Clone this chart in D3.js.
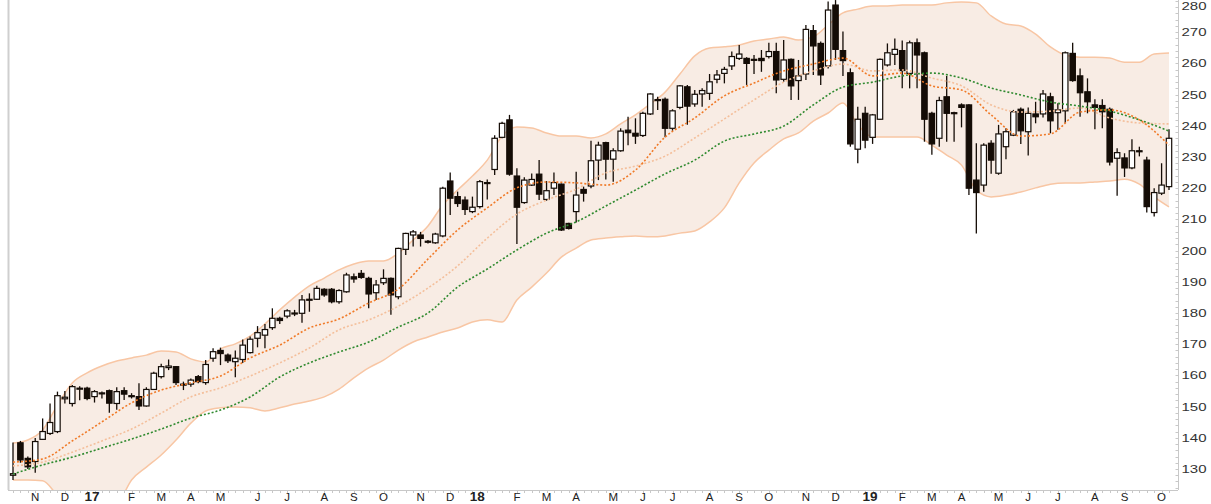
<!DOCTYPE html>
<html>
<head>
<meta charset="utf-8">
<script src="https://cdn.jsdelivr.net/npm/d3@7"></script>
<style>
  body { margin: 0; background: #fff; }
  svg { display: block; font-family: "Liberation Sans", Arial, sans-serif; }
</style>
</head>
<body>
<div id="chart"></div>
<script>
// weekly bars, first one is the week of 17 Oct 2016
const firstWeek = new Date(2016, 9, 17);

const openVals = [
  128, 138.4, 133.4, 132.4, 139.5, 141.4, 142, 152.5, 151, 155.6,
  155.9, 153.2, 154.2, 155.1, 151, 155.1, 153.5, 153.2, 150.2, 155.5,
  159.6, 162.5, 162.8, 157.2, 157.2, 159.6, 157.7, 165.5, 168, 166.5,
  164.4, 165.1, 167.3, 171.9, 172.9, 175.3, 178.3, 179, 179.9, 179.9,
  184.3, 184.4, 187.6, 187.6, 183.6, 186.8, 191.6, 192.7, 191.1, 186.5,
  189.7, 191.1, 185.2, 200.4, 205, 205, 203, 202.5, 204.7, 222.3,
  217.3, 216.2, 212.5, 214.1, 221.8, 226, 236.3, 241.9, 223.9, 215.4,
  221, 224.5, 216.4, 220, 221.3, 208.7, 212.5, 219.6, 220.7, 229,
  234.6, 229.3, 232, 238.6, 237.6, 236.9, 243.8, 248.4, 248.5, 239.2,
  245.9, 252.5, 247, 250.2, 250.4, 254.9, 256.8, 259.2, 261.6, 261.6,
  261.3, 261.6, 262.2, 263.8, 254.9, 261.3, 254.5, 256.6, 270.5, 266.4,
  259.2, 278.7, 264.1, 257, 232.5, 244, 236.3, 242.1, 259.5, 262.9,
  264.1, 256.8, 266.6, 263.4, 244, 236, 249.3, 244.2, 246.7, 246.7,
  222.6, 221, 234.4, 224.8, 233.3, 237, 245.3, 238.1, 243.8, 243.8,
  249.3, 244.2, 244.8, 263.2, 256, 250.9, 246.7, 246.5, 245.3, 229.6,
  229.7, 226.5, 232, 229, 212.2, 218.4, 220.5
];
const highVals = [
  138.5, 139, 134, 139.9, 146.2, 151, 154.8, 155, 156.9, 156.5,
  156.4, 155.3, 154.8, 155.5, 156.2, 156.2, 154.3, 157.5, 156.2, 161.2,
  163.7, 165.1, 163, 158, 159, 160.1, 164.9, 168.7, 168.9, 167,
  168, 171.5, 172.5, 175.8, 176.5, 181.5, 178.8, 181.2, 181, 185.8,
  186.3, 188.7, 187.9, 188, 187.6, 192.9, 192.7, 193.8, 191.6, 190.6,
  194, 191.4, 200.9, 205.7, 206.6, 206, 203.4, 205.7, 220.5, 225,
  218.9, 217.3, 217.3, 222.6, 222.8, 237, 241.3, 243.5, 226.4, 223.5,
  224.7, 229, 222.3, 225, 221.5, 208.9, 225.3, 220.5, 235.2, 234.9,
  234.9, 232.8, 239.2, 242.9, 242.4, 244.5, 250.4, 249.3, 249.1, 245.3,
  253.1, 253.1, 251.5, 252, 256.6, 257.9, 258.9, 263.8, 265.9, 262,
  262.7, 264.3, 266.6, 266.6, 267.5, 261.6, 261.1, 272.3, 272.3, 267,
  279.8, 280.3, 270.2, 258.4, 246.1, 246.1, 243.8, 261.6, 266.4, 268,
  267.3, 267.3, 268, 263.8, 244.5, 249.3, 256, 244.5, 247.2, 246.9,
  234.4, 234.4, 235.4, 240.3, 239.2, 245.1, 245.9, 245.9, 247.7, 251.5,
  250.6, 247.2, 263.8, 266.6, 258.4, 255.2, 248.5, 248.5, 245.9, 232.8,
  231.2, 235.7, 233.3, 230.1, 220, 228, 238.9
];
const lowVals = [
  126.5, 132, 130, 128.8, 139.3, 140.9, 141.5, 151, 150, 152,
  152, 151.3, 152.6, 148, 149, 152.1, 152.6, 148.9, 150, 155.3,
  159, 161.7, 156.9, 155.3, 156.4, 157.5, 157, 164.4, 163.3, 164,
  159.4, 164, 167, 169, 168.7, 174.6, 176.5, 178.3, 179, 176.9,
  180.4, 184.2, 185.2, 183.1, 183, 186.5, 189.7, 191, 181.5, 184.2,
  189, 179.4, 184.4, 198.6, 201.3, 201.3, 202.3, 202.2, 204.3, 211.4,
  214, 211.4, 212, 213.5, 216.4, 224.2, 236, 224, 202.1, 215,
  220.7, 216.2, 216, 217.8, 206.3, 206.8, 209, 215.7, 220, 222.6,
  222.8, 222.1, 231.7, 233.8, 234.2, 236.4, 243.5, 245.1, 236.3, 238.4,
  245.3, 240.3, 246.1, 246.1, 248.3, 253.6, 253.6, 257.9, 261.1, 253.1,
  256.6, 257.3, 261.6, 250.4, 254.1, 248.3, 248.3, 254.7, 256.3, 253.1,
  258.4, 261.1, 256, 233.3, 228, 232.8, 234.2, 241.9, 259, 259.5,
  252, 252, 252, 234.9, 230.7, 233.3, 234.9, 234.9, 239.5, 217.8,
  205.5, 218.9, 224.6, 224.3, 229.3, 236.7, 234.2, 230.5, 240.8, 242.7,
  237.6, 238.7, 240.8, 254.1, 242.9, 244, 238.9, 239.2, 227.3, 217.6,
  223.6, 226.1, 230.2, 212.2, 210.9, 217.8, 219.4
];
const closeVals = [
  128.5, 132.9, 130.7, 138.8, 142, 144.9, 153.5, 153, 156.4, 155.9,
  152.6, 154.8, 154.4, 151.1, 154.8, 154, 153.3, 150.2, 155.5, 160.7,
  162.8, 163, 157.7, 156.9, 158.5, 158, 163.5, 167.6, 167, 164.7,
  165.5, 169.7, 171.6, 173.7, 174.7, 178.3, 177.6, 180.7, 180, 184.2,
  184.4, 187.9, 185.8, 183.6, 187.2, 192.2, 190.9, 191.4, 186.1, 189,
  191.1, 185.8, 200.7, 205.5, 206, 203.9, 202.9, 205.3, 220, 216.8,
  215.1, 213.2, 213.9, 222.1, 221.6, 236, 240.8, 224.5, 213.9, 222.6,
  222.8, 218.1, 219.2, 221.8, 206.6, 207.1, 217.8, 218.4, 228.8, 233.8,
  229.3, 232, 238.3, 237.8, 236.7, 244, 250.2, 248.3, 239.2, 244.8,
  252.8, 246.3, 250.1, 251.3, 254.1, 256.3, 258.1, 262.2, 263, 260,
  261.2, 260.9, 263.8, 254.7, 261.1, 252.8, 256, 270.9, 265.6, 256.3,
  277.1, 264.5, 260.9, 234.2, 242.1, 235.4, 243.5, 261.3, 263.4, 264.5,
  257.7, 266.6, 262.7, 242.1, 234.2, 248.1, 244, 244, 245.9, 220,
  218.6, 233.8, 229, 237.4, 238.1, 244.5, 238.4, 244, 242.9, 250.2,
  241.6, 245.1, 263.4, 254.5, 250.6, 247.7, 245.9, 244.5, 228.4, 231.4,
  226.5, 232, 231.9, 214.1, 218.6, 221, 236
];

// envelope, read every second week
const bandWeeks = d3.range(0, 157, 2);
const upperBand = [
  138.3, 139.3, 142.5, 150.5, 157.6, 160.8, 163, 164.6, 165.6, 166.5,
  167.8, 167.5, 165.3, 164.3, 168.5, 170.1, 172.6, 176.5, 181, 185.1,
  188.7, 191.2, 193.8, 195.7, 196.7, 196.7, 199.2, 203.4, 207.9, 214.6,
  219.4, 223.9, 229, 236.7, 239.6, 239.3, 237.7, 236.7, 236.7, 236.1,
  237.4, 240.6, 243.5, 247, 250.8, 256.6, 262.4, 264.9, 265.3, 265.9,
  267.2, 267.8, 268.5, 267.5, 268.5, 272.3, 276.2, 277.4, 278.4, 278.4,
  278.7, 278.7, 278.7, 279.4, 279.7, 279.4, 275.2, 272.6, 272, 269.4,
  265.3, 262.7, 262, 262, 261.7, 260.4, 260.4, 263, 263.3
];
const lowerBand = [
  126.5, 126.5, 126.2, 121.7, 118.5, 116.9, 116.9, 118.5, 126.5, 130.6,
  134.5, 139.3, 144.7, 148.6, 149.6, 149.9, 149.6, 148.6, 149.6, 150.8,
  151.8, 153.1, 155.6, 159.2, 162.4, 164.9, 168.1, 170.7, 172.3, 173.9,
  175.2, 177.1, 177.8, 177.1, 184.2, 188.3, 192.8, 197.9, 200.8, 203.4,
  204, 204.4, 204.7, 204.4, 204.7, 205.6, 206.3, 209.2, 213.7, 221.7,
  228.1, 232.2, 235.8, 237.7, 241.5, 244.1, 247.3, 240.3, 236.4, 236.4,
  236.4, 236.4, 233.8, 230.6, 227.4, 219.4, 217.2, 217.8, 218.8, 220.1,
  221.3, 221.7, 221.7, 222, 222.3, 222.9, 221.3, 217.2, 214
];

// averages, read every fourth week
const maWeeks = d3.range(0, 157, 4);
const maOrange = [
  132.2, 133.2, 139, 145.1, 151.2, 155.3, 157.6, 159.8, 165.6, 169.7,
  175.2, 178.1, 183.2, 187.7, 197.3, 206.6, 213.7, 220.1, 222, 221.7,
  221, 225.8, 236.4, 242.5, 249.6, 253.7, 257.6, 259.8, 261.7, 256,
  256.9, 252.8, 251.5, 243.5, 236.7, 237.4, 244.4, 245.1, 241.9, 233.8
];
const maPeach = [
  131, 132.2, 135.4, 139, 142.8, 147.9, 153.1, 156, 159.8, 164,
  168.8, 174.6, 177.8, 182.2, 188, 195.1, 204, 211.7, 216.2, 219.7,
  224.9, 227.1, 230.3, 236.1, 242.2, 248.3, 254, 257.6, 259.8, 257.6,
  257.9, 255.3, 252.8, 246.7, 244.4, 244.7, 245.7, 242.5, 240.9, 240.6
];
const maGreen = [
  128.4, 131.3, 133.8, 136.7, 139.6, 142.8, 146.3, 148.9, 153.1, 159.5,
  164, 167.5, 170.7, 175.5, 180, 188.3, 194.1, 200.2, 205.6, 209.2,
  214.3, 219.4, 224.6, 229, 235.1, 237.4, 239.9, 246.7, 252.4, 254,
  256, 256.9, 255.3, 252.1, 249.9, 247.6, 246.3, 244.7, 241.9, 238.3
];

const yTickValues = [130, 140, 150, 160, 170, 180, 190, 200, 210, 220, 230, 240, 250, 260, 270, 280];

const W = 1211, H = 504;
const plot = { left: 8, right: 1178, top: 0, bottom: 490 };

const weekDate = i => d3.timeDay.offset(firstWeek, 7 * i);
const bars = closeVals.map((c, i) => ({
  date: weekDate(i), open: openVals[i], high: highVals[i], low: lowVals[i], close: c
}));

const x = d3.scaleTime()
  .domain([bars[0].date, bars[bars.length - 1].date])
  .range([13, 1169]);
const y = d3.scaleLinear().domain([130, 280]).range([469, 1]);

const svg = d3.select("#chart").append("svg")
  .attr("width", W).attr("height", H);

svg.append("defs").append("clipPath").attr("id", "plotClip")
  .append("rect")
  .attr("x", plot.left).attr("y", plot.top)
  .attr("width", plot.right - plot.left).attr("height", plot.bottom - plot.top);

const g = svg.append("g").attr("clip-path", "url(#plotClip)");

// band
const bandData = bandWeeks.map((w, k) => ({ date: weekDate(w), up: upperBand[k], lo: lowerBand[k] }));
g.append("path")
  .datum(bandData)
  .attr("fill", "#f8ece4")
  .attr("d", d3.area().curve(d3.curveMonotoneX)
    .x(d => x(d.date)).y0(d => y(d.lo)).y1(d => y(d.up)));
["up", "lo"].forEach(k => {
  g.append("path")
    .datum(bandData)
    .attr("fill", "none")
    .attr("stroke", "#f8c6a4")
    .attr("stroke-width", 1.5)
    .attr("d", d3.line().curve(d3.curveMonotoneX).x(d => x(d.date)).y(d => y(d[k])));
});

// candles
const bodyW = 5.4;
const candle = g.selectAll(".candle").data(bars).enter().append("g").attr("class", "candle");
candle.append("line")
  .attr("x1", d => x(d.date)).attr("x2", d => x(d.date))
  .attr("y1", d => y(d.high)).attr("y2", d => y(d.low))
  .attr("stroke", "#140c06").attr("stroke-width", 1.3);
candle.append("rect")
  .attr("x", d => x(d.date) - bodyW / 2)
  .attr("y", d => y(Math.max(d.open, d.close)))
  .attr("width", bodyW)
  .attr("height", d => Math.max(1, Math.abs(y(d.open) - y(d.close))))
  .attr("fill", d => d.close >= d.open ? "#fff" : "#140c06")
  .attr("stroke", "#140c06")
  .attr("stroke-width", 1.2);

// moving averages on top
const maSeries = [
  { vals: maPeach, color: "#f4bf9b" },
  { vals: maGreen, color: "#2f8a2f" },
  { vals: maOrange, color: "#f07a28" }
];
maSeries.forEach(s => {
  const data = maWeeks.map((w, k) => ({ date: weekDate(w), v: s.vals[k] }));
  g.append("path")
    .datum(data)
    .attr("fill", "none")
    .attr("stroke", s.color)
    .attr("stroke-width", 1.6)
    .attr("stroke-dasharray", "2,2")
    .attr("d", d3.line().curve(d3.curveMonotoneX).x(d => x(d.date)).y(d => y(d.v)));
});

// frame
svg.append("line")
  .attr("x1", plot.left + 0.5).attr("x2", plot.left + 0.5)
  .attr("y1", 0).attr("y2", plot.bottom)
  .attr("stroke", "#cfcfcf").attr("stroke-width", 2);
svg.append("line")
  .attr("x1", plot.left).attr("x2", plot.right)
  .attr("y1", plot.bottom + 0.5).attr("y2", plot.bottom + 0.5)
  .attr("stroke", "#c8c8c8");

// right value axis
const yAxis = svg.append("g").attr("transform", `translate(${plot.right + 0.5},0)`);
yAxis.append("line").attr("y1", 0).attr("y2", plot.bottom).attr("stroke", "#c8c8c8");
const minor = d3.range(124, 282, 2);
yAxis.selectAll(".minor").data(minor).enter().append("line")
  .attr("x1", -3).attr("x2", 0)
  .attr("y1", d => Math.round(y(d)) + 0.5).attr("y2", d => Math.round(y(d)) + 0.5)
  .attr("stroke", "#c8c8c8");
yAxis.selectAll(".lbl").data(yTickValues).enter().append("text")
  .attr("x", 3)
  .attr("y", d => Math.max(y(d) + 4, 10)) // keep the top label inside the window
  .attr("font-size", 11)
  .attr("fill", "#333")
  .attr("textLength", 25)
  .attr("lengthAdjust", "spacingAndGlyphs")
  .text(d => d);

// bottom time axis: first bar of each month
const isYear = d => d.date.getMonth() === 0;
const monthBars = bars.filter((d, i) => i > 0 && d.date.getMonth() !== bars[i - 1].date.getMonth());
svg.selectAll(".wk").data(bars).enter().append("line")
  .attr("x1", d => Math.round(x(d.date)) + 0.5).attr("x2", d => Math.round(x(d.date)) + 0.5)
  .attr("y1", plot.bottom).attr("y2", plot.bottom + 3)
  .attr("stroke", "#c8c8c8");
svg.selectAll(".mlbl").data(monthBars).enter().append("text")
  .attr("x", d => x(d.date) - (isYear(d) ? 2.5 : 0))
  .attr("y", 501)
  .attr("text-anchor", "middle")
  .attr("font-size", d => isYear(d) ? 13.5 : 11.5)
  .attr("font-weight", d => isYear(d) ? "bold" : "normal")
  .attr("fill", "#222")
  .text(d => isYear(d) ? d3.timeFormat("%y")(d.date) : d3.timeFormat("%b")(d.date)[0]);
</script>
</body>
</html>
